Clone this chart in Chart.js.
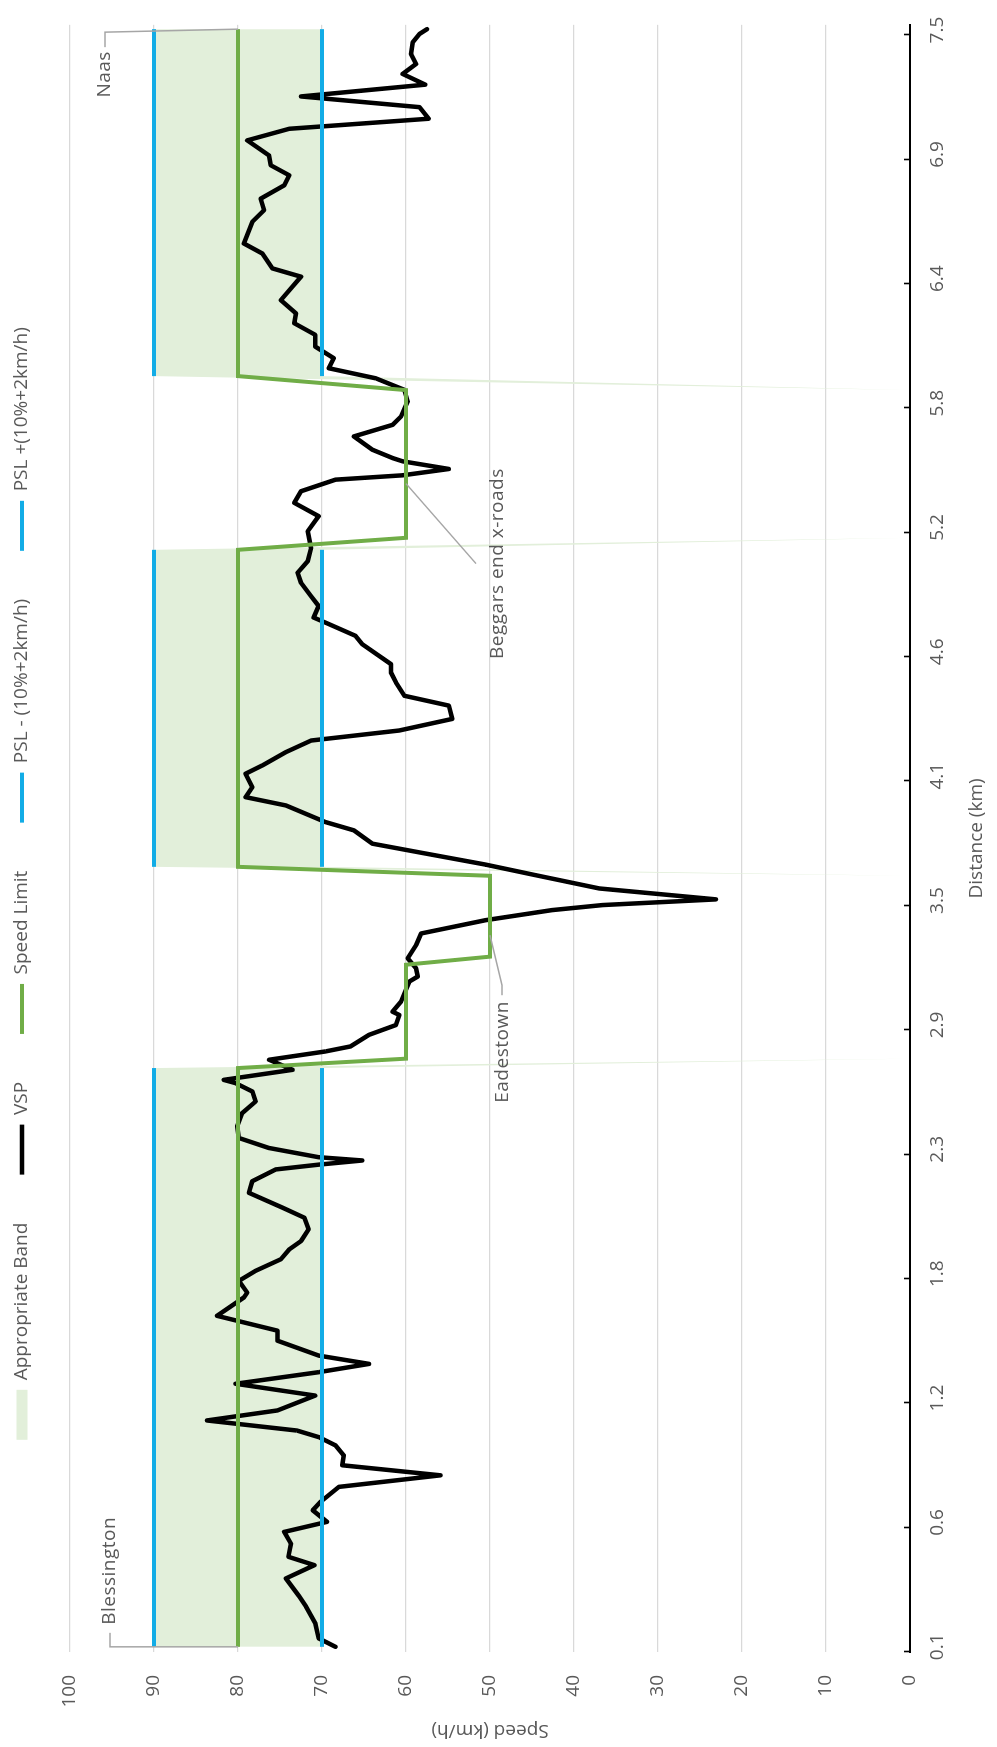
<!DOCTYPE html>
<html><head><meta charset="utf-8">
<script src="https://cdn.jsdelivr.net/npm/chart.js@4.4.0/dist/chart.umd.min.js"></script>
<style>
html,body{margin:0;padding:0;background:#fff;overflow:hidden;width:997px;height:1747px;}
#wrap{position:absolute;left:0;top:0;width:1747px;height:997px;transform-origin:0 0;transform:translate(0,1747px) rotate(-90deg);}
canvas{display:block;}
</style></head><body>
<div id="wrap"><canvas id="c" width="1747" height="997"></canvas></div>
<script>
// ---- data ----
const distanceLabels = ['0.1','0.6','1.2','1.8','2.3','2.9','3.5','4.1','4.6','5.2','5.8','6.4','6.9','7.5'];
const seriesNames = ['Appropriate Band','VSP','Speed Limit','PSL - (10%+2km/h)','PSL +(10%+2km/h)'];
const categoryWidthKm = 0.0474;

const vspDist = [0.10,0.139,0.208,0.284,0.330,0.413,0.474,0.512,0.573,0.626,
0.672,0.725,0.763,0.832,0.885,0.931,0.976,1.022,1.060,1.090,
1.136,1.182,1.250,1.304,1.357,1.395,1.433,1.501,1.547,1.615,
1.699,1.721,1.775,1.821,1.874,1.919,1.957,2.011,2.064,2.110,
2.178,2.231,2.285,2.307,2.326,2.341,2.383,2.429,2.482,2.543,
2.596,2.642,2.680,2.695,2.741,2.787,2.825,2.848,2.901,2.946,
2.992,3.007,3.053,3.145,3.168,3.206,3.251,3.312,3.365,3.426,
3.472,3.495,3.521,3.571,3.632,3.680,3.731,3.776,3.837,3.875,
3.951,3.989,4.035,4.096,4.134,4.195,4.248,4.294,4.347,4.408,
4.453,4.514,4.560,4.598,4.689,4.727,4.788,4.811,4.864,4.909,
4.970,5.016,5.069,5.130,5.206,5.275,5.336,5.389,5.442,5.462,
5.491,5.526,5.541,5.579,5.640,5.693,5.731,5.800,5.853,5.906,
5.952,5.998,6.051,6.105,6.158,6.203,6.264,6.371,6.409,6.477,
6.523,6.622,6.675,6.728,6.789,6.835,6.881,6.926,6.995,7.048,
7.094,7.147,7.196,7.250,7.299,7.345,7.390,7.444,7.482,7.504];
const vspSpeed = [68.4,70.4,70.8,71.9,72.7,74.3,70.9,74.0,73.7,74.5,
69.4,71.1,70.2,68.0,55.9,67.6,67.4,68.4,70.4,73.0,
83.7,75.3,70.8,80.3,70.4,64.4,70.4,75.3,75.3,82.5,
79.3,78.9,79.9,77.9,74.9,73.9,72.5,71.6,72.1,74.7,
78.7,78.3,75.5,70.4,65.2,70.4,76.3,79.9,80.1,79.5,
77.9,78.3,80.3,81.7,73.5,76.3,69.6,66.6,64.4,61.2,
60.8,61.6,60.6,59.6,58.6,58.8,59.8,58.8,58.2,50.5,
42.6,36.6,23.1,37.0,44.6,50.5,57.7,64.0,66.2,69.6,
74.3,79.1,78.3,79.1,77.1,74.3,71.3,60.8,54.5,54.9,
60.2,61.2,61.8,61.8,65.2,66.0,69.6,71.0,70.4,71.3,
72.5,72.9,71.7,71.3,71.7,70.4,73.3,72.5,68.4,60.4,
54.9,60.4,61.6,64.0,66.2,61.6,60.6,59.8,60.2,63.6,
69.2,68.6,70.8,70.8,73.3,73.1,74.9,72.5,75.9,77.1,
79.3,78.3,76.9,77.3,74.5,73.9,76.1,76.3,78.9,73.9,
57.3,58.4,72.5,57.7,60.4,58.8,59.4,59.2,58.4,57.5];

const limitDist  = [0.10,2.749,2.792,3.222,3.259,3.357,3.629,3.670,5.121,5.176,5.424,5.852,5.916,7.504];
const limitSpeed = [80,80,60,60,50,50,50,80,80,60,60,60,80,80];

const bandDist = [0.10,2.749,2.792,3.629,3.670,5.121,5.176,5.852,5.916,7.504];
const bandLow  = [70,70,0,0,70,70,0,0,70,70];
const bandHigh = [90,90,0,0,90,90,0,0,90,90];

const pslDist  = [0.10,2.749,3.2,3.670,5.121,5.5,5.916,7.504];
const pslPlus  = [90,90,null,90,90,null,90,90];
const pslMinus = [70,70,null,70,70,null,70,70];

const placeIndex = [0,5,10,13];
const placeNames = ['Blessington','Eadestown','Beggars end x-roads','Naas'];

// ---- styling (positions of callouts relative to their point, px) ----
const placeLayout = [
  {leader:[[0,0],[0,-128],[14,-128]], text:[22,-128], align:'left'},
  {leader:[[0,0],[-50,12],[-60,12]], text:[-66,13], align:'right'},
  {leader:[[0,0],[-80,70]], text:[-80,92], align:'center'},
  {leader:[[0,0],[-3,-133],[-18,-133]], text:[-22,-133], align:'right'}
];

const pts = (xs, ys) => xs.map((x, i) => ({x: x, y: ys[i]}));
const TXT = '#595959';
const FONT = "'Open Sans', 'DejaVu Sans', sans-serif";
Chart.defaults.font.family = FONT;

const LEG_PAD = 48;
const legendPlugin = {
  id: 'legendFix',
  beforeLayout(chart) {
    const lg = chart.legend;
    if (lg && !lg._wrappedFit) {
      const f = lg.fit.bind(lg);
      lg.fit = function () { f(); this.height = 70; };
      lg._wrappedFit = true;
    }
  },
  afterLayout(chart) {
    const lg = chart.legend;
    if (lg) { lg.top = 22 - LEG_PAD - 9.5; }
  }
};

const tickPlugin = {
  id: 'innerTicks',
  afterDatasetsDraw(chart) {
    const xs = chart.scales.x, ctx = chart.ctx, b = chart.chartArea.bottom;
    ctx.save();
    ctx.strokeStyle = '#000'; ctx.lineWidth = 1.6;
    ctx.beginPath();
    xs.ticks.forEach(t => {
      const px = Math.round(xs.getPixelForValue(t.value - categoryWidthKm / 2)) + 0.5;
      ctx.moveTo(px, b); ctx.lineTo(px, b - 6);
    });
    ctx.stroke();
    ctx.restore();
  }
};

const calloutPlugin = {
  id: 'callouts',
  afterDatasetsDraw(chart) {
    const xs = chart.scales.x, ys = chart.scales.y, ctx = chart.ctx;
    ctx.save();
    placeIndex.forEach((idx, k) => {
      const ax = xs.getPixelForValue(limitDist[idx]);
      const ay = ys.getPixelForValue(limitSpeed[idx]);
      const L = placeLayout[k];
      ctx.strokeStyle = '#A6A6A6'; ctx.lineWidth = 1.5;
      ctx.beginPath();
      L.leader.forEach((p, j) => { if (j === 0) ctx.moveTo(ax + p[0], ay + p[1]); else ctx.lineTo(ax + p[0], ay + p[1]); });
      ctx.stroke();
      ctx.fillStyle = TXT;
      ctx.font = "19px " + FONT;
      try { ctx.letterSpacing = '0.5px'; } catch (e) {}
      ctx.textAlign = L.align; ctx.textBaseline = 'middle';
      ctx.fillText(placeNames[k], ax + L.text[0], ay + L.text[1]);
      try { ctx.letterSpacing = '0px'; } catch (e) {}
    });
    ctx.restore();
  }
};

const BLUE = '#12ACE6', GREEN = '#70AD47';
new Chart(document.getElementById('c'), {
  type: 'line',
  data: {
    datasets: [
      {label: seriesNames[0], data: pts(bandDist, bandHigh), fill: '+1', backgroundColor: '#E2EFDA', borderWidth: 0, pointRadius: 0, order: 10, pointStyle: 'rect'},
      {label: '_base', data: pts(bandDist, bandLow), fill: false, borderWidth: 0, pointRadius: 0, order: 11},
      {label: seriesNames[1], data: pts(vspDist, vspSpeed), borderColor: '#000', backgroundColor: '#000', borderWidth: 4.5, pointRadius: 0, order: 4, pointStyle: 'line', borderJoinStyle: 'round', borderCapStyle: 'round'},
      {label: seriesNames[2], data: pts(limitDist, limitSpeed), borderColor: GREEN, backgroundColor: GREEN, borderWidth: 4, pointRadius: 0, order: 3, pointStyle: 'line', borderJoinStyle: 'miter'},
      {label: seriesNames[3], data: pts(pslDist, pslMinus), borderColor: BLUE, backgroundColor: BLUE, borderWidth: 4, pointRadius: 0, order: 2, pointStyle: 'line', spanGaps: false},
      {label: seriesNames[4], data: pts(pslDist, pslPlus), borderColor: BLUE, backgroundColor: BLUE, borderWidth: 4, pointRadius: 0, order: 1, pointStyle: 'line', spanGaps: false}
    ]
  },
  options: {
    responsive: false, animation: false, devicePixelRatio: 1,
    layout: {padding: {left: 0, right: 20, top: 0, bottom: 0}},
    elements: {line: {tension: 0}},
    plugins: {
      tooltip: {enabled: false},
      legend: {
        position: 'top', align: 'center',
        labels: {
          filter: it => it.datasetIndex !== 1,
          sort: (a, b) => a.datasetIndex - b.datasetIndex,
          usePointStyle: true, pointStyleWidth: 50, boxHeight: 11,
          padding: LEG_PAD, color: TXT, font: {size: 19}
        }
      }
    },
    scales: {
      x: {
        type: 'linear',
        min: parseFloat(distanceLabels[0]) - categoryWidthKm / 2,
        max: parseFloat(distanceLabels[distanceLabels.length - 1]) + categoryWidthKm / 2,
        afterBuildTicks: s => {
          const a = parseFloat(distanceLabels[0]), z = parseFloat(distanceLabels[distanceLabels.length - 1]);
          const n = distanceLabels.length - 1;
          s.ticks = distanceLabels.map((l, i) => ({value: a + (z - a) * i / n}));
        },
        afterFit: s => { s.height = 87; },
        grid: {display: false, drawTicks: false},
        border: {display: true, color: '#000', width: 2},
        ticks: {autoSkip: false, maxRotation: 0, padding: 16.6, color: TXT, font: {size: 19},
          callback: (v, i) => distanceLabels[i]},
        title: {display: true, text: 'Distance (km)', color: TXT, font: {size: 19}, padding: {top: 0, bottom: 8.6}}
      },
      y: {
        min: 0, max: 100,
        afterFit: s => { s.width = 95; },
        grid: {color: c => c.tick && c.tick.value === 0 ? 'rgba(0,0,0,0)' : '#D9D9D9', lineWidth: 1.3, drawTicks: false},
        border: {display: false},
        ticks: {stepSize: 10, padding: 23, color: TXT, font: {size: 19}},
        title: {display: true, text: 'Speed (km/h)', color: TXT, font: {size: 19}, padding: {top: 5.6, bottom: 0}}
      }
    }
  },
  plugins: [legendPlugin, tickPlugin, calloutPlugin]
});
</script>
</body></html>
